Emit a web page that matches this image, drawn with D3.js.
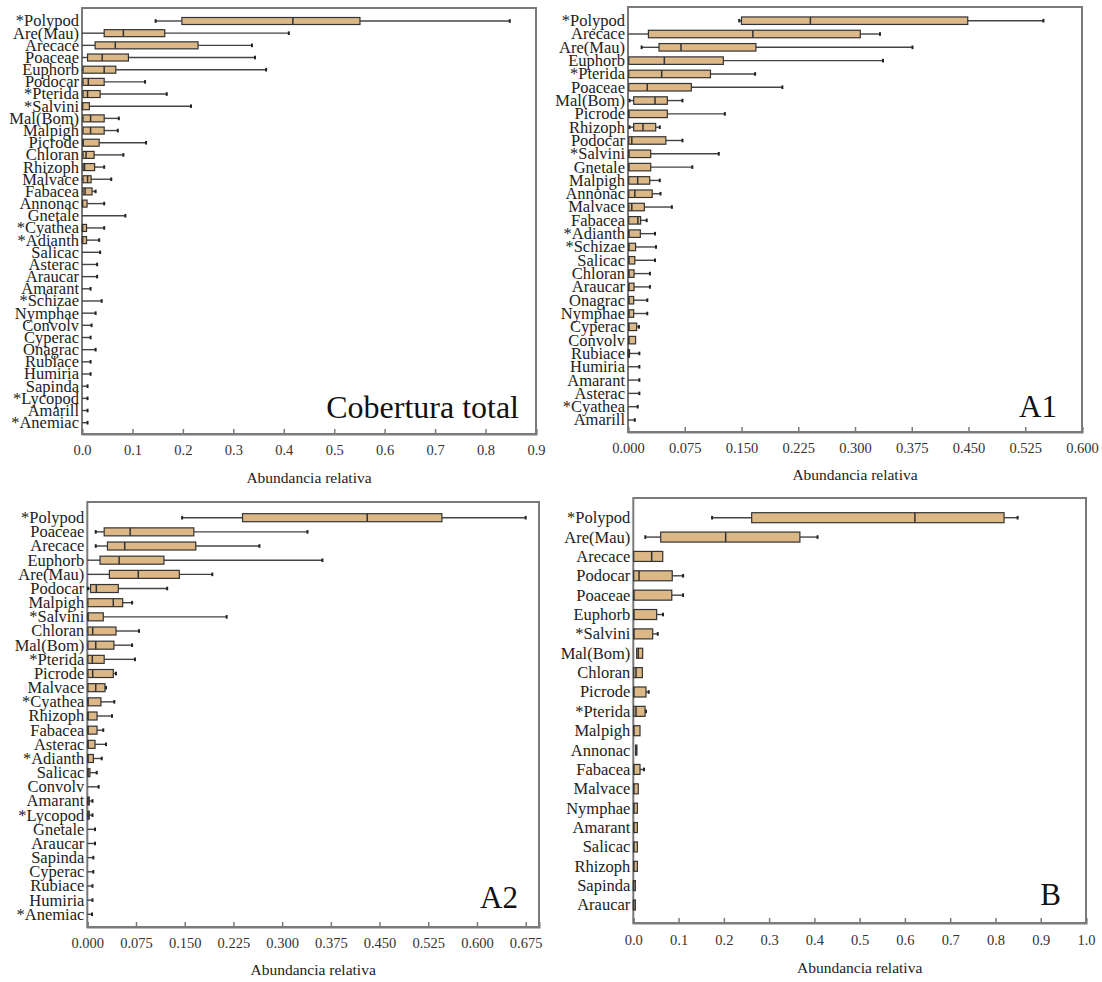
<!DOCTYPE html>
<html><head><meta charset="utf-8">
<script src="https://cdn.jsdelivr.net/npm/d3@7"></script>
<style>body{margin:0;background:#fff}svg{display:block}</style>
</head><body>
<svg id="chart" width="1102" height="982"></svg>
<script>
// ---------- Panel 1: Cobertura total ----------
const totalCats = ["*Polypod","Are(Mau)","Arecace","Poaceae","Euphorb","Podocar","*Pterida","*Salvini","Mal(Bom)","Malpigh","Picrode","Chloran","Rhizoph","Malvace","Fabacea","Annonac","Gnetale","*Cyathea","*Adianth","Salicac","Asterac","Araucar","Amarant","*Schizae","Nymphae","Convolv","Cyperac","Onagrac","Rubiace","Humiria","Sapinda","*Lycopod","Amarill","*Anemiac"];
const totalLow  = [0.146,0,0,0,0,0,0,0,0,0,0,0,0,0,0,0,0,0,0,0,0,0,0,0,0,0,0,0,0,0,0,0,0,0];
const totalQ1   = [0.198,0.044,0.026,0.011,0.002,0.002,0.002,0.001,0.002,0.002,0.002,0.002,0.002,0.002,0.002,0.001,0,0.001,0.001,0,0,0,0,0,0,0,0,0,0,0,0,0,0,0];
const totalMed  = [0.418,0.082,0.066,0.040,0.044,0.0125,0.011,0.001,0.017,0.017,0.002,0.008,0.005,0.011,0.006,0.001,0,0.001,0.001,0,0,0,0,0,0,0,0,0,0,0,0,0,0,0];
const totalQ3   = [0.551,0.164,0.230,0.092,0.067,0.044,0.036,0.0146,0.044,0.044,0.034,0.024,0.025,0.018,0.020,0.010,0,0.009,0.009,0,0,0,0,0,0,0,0,0,0,0,0,0,0,0];
const totalHigh = [0.848,0.410,0.337,0.343,0.365,0.125,0.168,0.216,0.073,0.071,0.127,0.082,0.044,0.058,0.027,0.044,0.086,0.044,0.034,0.036,0.030,0.030,0.017,0.039,0.027,0.019,0.017,0.027,0.017,0.017,0.011,0.011,0.011,0.011];
const totalTicks = ["0.0","0.1","0.2","0.3","0.4","0.5","0.6","0.7","0.8","0.9"];

// ---------- Panel 2: A1 ----------
const a1Cats = ["*Polypod","Arecace","Are(Mau)","Euphorb","*Pterida","Poaceae","Mal(Bom)","Picrode","Rhizoph","Podocar","*Salvini","Gnetale","Malpigh","Annonac","Malvace","Fabacea","*Adianth","*Schizae","Salicac","Chloran","Araucar","Onagrac","Nymphae","Cyperac","Convolv","Rubiace","Humiria","Amarant","Asterac","*Cyathea","Amarill"];
const a1Low  = [0.147,0,0.018,0,0,0,0.002,0,0.002,0,0,0,0,0,0,0,0,0,0,0,0,0,0,0,0,0,0,0,0,0,0];
const a1Q1   = [0.150,0.027,0.041,0.001,0.001,0.001,0.0075,0.001,0.0075,0.001,0.001,0.001,0.001,0.001,0.001,0.001,0.001,0.001,0.001,0.001,0.001,0.001,0.001,0.001,0.001,0.0005,0,0,0,0,0];
const a1Med  = [0.241,0.165,0.070,0.048,0.0445,0.0255,0.0357,0.001,0.0198,0.005,0.001,0.001,0.0128,0.009,0.005,0.013,0.001,0.001,0.001,0.001,0.001,0.001,0.001,0.001,0.001,0.0005,0,0,0,0,0];
const a1Q3   = [0.449,0.307,0.169,0.126,0.109,0.0837,0.052,0.052,0.0366,0.050,0.030,0.030,0.0287,0.032,0.0216,0.0167,0.0163,0.010,0.009,0.008,0.008,0.0075,0.0075,0.0115,0.010,0.002,0,0,0,0,0];
const a1High = [0.549,0.333,0.376,0.337,0.168,0.204,0.072,0.128,0.042,0.072,0.120,0.085,0.042,0.043,0.058,0.0247,0.0357,0.037,0.0357,0.029,0.029,0.0255,0.0255,0.0145,0.010,0.015,0.015,0.015,0.015,0.0128,0.009];
const a1Ticks = ["0.000","0.075","0.150","0.225","0.300","0.375","0.450","0.525","0.600"];

// ---------- Panel 3: A2 ----------
const a2Cats = ["*Polypod","Poaceae","Arecace","Euphorb","Are(Mau)","Podocar","Malpigh","*Salvini","Chloran","Mal(Bom)","*Pterida","Picrode","Malvace","*Cyathea","Rhizoph","Fabacea","Asterac","*Adianth","Salicac","Convolv","Amarant","*Lycopod","Gnetale","Araucar","Sapinda","Cyperac","Rubiace","Humiria","*Anemiac"];
const a2Low  = [0.146,0.013,0.013,0,0,0.001,0,0,0,0,0,0,0,0,0,0,0,0,0,0,0,0,0,0,0,0,0,0,0];
const a2Q1   = [0.239,0.026,0.031,0.0196,0.034,0.005,0.001,0.001,0.001,0.001,0.001,0.001,0.001,0.001,0.001,0.001,0.001,0.001,0.001,0,0.001,0.001,0,0,0,0,0,0,0];
const a2Med  = [0.431,0.066,0.0576,0.049,0.0785,0.0139,0.040,0.001,0.0083,0.013,0.0077,0.0083,0.013,0.001,0.001,0.001,0.001,0.001,0.001,0,0.001,0.001,0,0,0,0,0,0,0];
const a2Q3   = [0.546,0.164,0.167,0.118,0.1417,0.0477,0.0545,0.0246,0.0442,0.041,0.026,0.040,0.0272,0.021,0.015,0.015,0.0119,0.0094,0.004,0,0.003,0.003,0,0,0,0,0,0,0];
const a2High = [0.675,0.339,0.265,0.362,0.1925,0.123,0.069,0.2146,0.0796,0.069,0.0734,0.0442,0.0288,0.0416,0.038,0.0246,0.0288,0.0222,0.0145,0.0175,0.008,0.008,0.0119,0.0119,0.0093,0.0093,0.008,0.008,0.0072];
const a2Ticks = ["0.000","0.075","0.150","0.225","0.300","0.375","0.450","0.525","0.600","0.675"];

// ---------- Panel 4: B ----------
const bCats = ["*Polypod","Are(Mau)","Arecace","Podocar","Poaceae","Euphorb","*Salvini","Mal(Bom)","Chloran","Picrode","*Pterida","Malpigh","Annonac","Fabacea","Malvace","Nymphae","Amarant","Salicac","Rhizoph","Sapinda","Araucar"];
const bLow  = [0.174,0.0265,0,0,0,0,0,0.0075,0,0,0,0,0.005,0,0,0,0,0,0,0,0];
const bQ1   = [0.2615,0.0605,0.001,0.001,0.001,0.001,0.001,0.0075,0.001,0.001,0.001,0.001,0.005,0.001,0.001,0.001,0.001,0.001,0.001,0.0005,0.0005];
const bMed  = [0.622,0.204,0.0406,0.0126,0.001,0.001,0.001,0.011,0.006,0.001,0.006,0.001,0.0065,0.001,0.001,0.001,0.001,0.001,0.001,0.0005,0.0005];
const bQ3   = [0.819,0.368,0.065,0.086,0.085,0.0516,0.0428,0.0207,0.020,0.028,0.026,0.0148,0.008,0.0148,0.011,0.009,0.009,0.009,0.009,0.0045,0.0045];
const bHigh = [0.849,0.407,0.065,0.110,0.110,0.0656,0.054,0.0207,0.020,0.034,0.028,0.0148,0.008,0.0236,0.011,0.009,0.009,0.009,0.009,0.0045,0.0045];
const bTicks = ["0.0","0.1","0.2","0.3","0.4","0.5","0.6","0.7","0.8","0.9","1.0"];

const axisTitle = "Abundancia relativa";

const panels = [
  {cats: totalCats, low: totalLow, q1: totalQ1, med: totalMed, q3: totalQ3, high: totalHigh, ticks: totalTicks, max: 0.9,
   name: "Cobertura total", x0: 82, x1: 536, y0: 8, y1: 434, r0: 21, r1: 422.7, bh: 7, tickY: 455, titleY: 483, nameY: 418, nameDx: 17, nameSize: 32},
  {cats: a1Cats, low: a1Low, q1: a1Q1, med: a1Med, q3: a1Q3, high: a1High, ticks: a1Ticks, max: 0.6,
   name: "A1", x0: 628, x1: 1082, y0: 7, y1: 432, r0: 20.7, r1: 420, bh: 7.5, tickY: 453, titleY: 480, nameY: 417, nameDx: 25, nameSize: 31},
  {cats: a2Cats, low: a2Low, q1: a2Q1, med: a2Med, q3: a2Q3, high: a2High, ticks: a2Ticks, max: 0.6955,
   name: "A2", x0: 87.3, x1: 539, y0: 502, y1: 927, r0: 517.7, r1: 914.3, bh: 8, tickY: 948, titleY: 975, nameY: 908, nameDx: 21, nameSize: 31},
  {cats: bCats, low: bLow, q1: bQ1, med: bMed, q3: bQ3, high: bHigh, ticks: bTicks, max: 1.0,
   name: "B", x0: 633.3, x1: 1086, y0: 498, y1: 923, r0: 517.7, r1: 905, bh: 10, tickY: 945, titleY: 973, nameY: 905, nameDx: 25, nameSize: 31}
];

const svg = d3.select("#chart");
const serif = "'Liberation Serif','Times New Roman',serif";
const FILL = "#dcb886", DARK = "#333333", FRAME = "#7a7a7a", WHISK = "#444444";

panels.forEach(p => {
  const g = svg.append("g");
  const x = d3.scaleLinear().domain([0, p.max]).range([p.x0, p.x1]);
  const y = d3.scalePoint().domain(p.cats).range([p.r0, p.r1]);
  const tickVals = p.ticks.map(Number);

  // frame
  g.append("rect").attr("x", p.x0).attr("y", p.y0).attr("width", p.x1 - p.x0).attr("height", p.y1 - p.y0)
    .attr("fill", "none").attr("stroke", FRAME).attr("stroke-width", 2);

  // bottom axis (ticks inward)
  const ax = d3.axisBottom(x).tickValues(tickVals).tickFormat((d, i) => p.ticks[i]).tickSize(-5).tickPadding(0);
  const axg = g.append("g").attr("transform", `translate(0,${p.y1})`).call(ax);
  axg.select(".domain").attr("stroke", FRAME).attr("stroke-width", 2);
  axg.selectAll(".tick line").attr("stroke", FRAME).attr("stroke-width", 1.5);
  axg.selectAll(".tick text").attr("y", p.tickY - p.y1).attr("dy", 0)
    .attr("font-family", serif).attr("font-size", 14.5).attr("fill", "#333");

  // category labels
  g.selectAll("text.cat").data(p.cats).join("text").attr("class", "cat")
    .attr("x", p.x0 - 3).attr("y", d => y(d)).attr("dy", "0.33em")
    .attr("text-anchor", "end").attr("font-family", serif).attr("font-size", 16.5).attr("fill", "#222")
    .text(d => d);

  const rows = p.cats.map((c, i) => ({c, lo: p.low[i], q1: p.q1[i], md: p.med[i], q3: p.q3[i], hi: p.high[i]}));

  // whiskers
  rows.forEach(r => {
    const cy = y(r.c);
    if (r.q1 > r.lo) {
      g.append("line").attr("x1", x(r.lo)).attr("x2", x(r.q1)).attr("y1", cy).attr("y2", cy)
        .attr("stroke", WHISK).attr("stroke-width", 1.4);
      if (r.lo > 0) g.append("line").attr("x1", x(r.lo)).attr("x2", x(r.lo)).attr("y1", cy - 1.8).attr("y2", cy + 1.8)
        .attr("stroke", "#222").attr("stroke-width", 2);
    }
    const start = Math.max(r.q3, r.q1);
    if (r.hi > start) {
      g.append("line").attr("x1", x(start)).attr("x2", x(r.hi)).attr("y1", cy).attr("y2", cy)
        .attr("stroke", WHISK).attr("stroke-width", 1.4);
      g.append("line").attr("x1", x(r.hi)).attr("x2", x(r.hi)).attr("y1", cy - 1.8).attr("y2", cy + 1.8)
        .attr("stroke", "#222").attr("stroke-width", 2);
    }
    if (r.q3 > r.q1) {
      g.append("rect").attr("x", x(r.q1)).attr("y", cy - p.bh / 2).attr("width", x(r.q3) - x(r.q1)).attr("height", p.bh)
        .attr("fill", FILL).attr("stroke", DARK).attr("stroke-width", 1.2);
      g.append("line").attr("x1", x(r.md)).attr("x2", x(r.md)).attr("y1", cy - p.bh / 2).attr("y2", cy + p.bh / 2)
        .attr("stroke", DARK).attr("stroke-width", 1.5);
    }
  });

  // axis title
  g.append("text").attr("x", (p.x0 + p.x1) / 2).attr("y", p.titleY).attr("text-anchor", "middle")
    .attr("font-family", serif).attr("font-size", 15.5).attr("fill", "#222").text(axisTitle);

  // panel name
  g.append("text").attr("x", p.x1 - p.nameDx).attr("y", p.nameY).attr("text-anchor", "end")
    .attr("font-family", serif).attr("font-size", p.nameSize).attr("fill", "#111").text(p.name);
});
</script>
</body></html>
